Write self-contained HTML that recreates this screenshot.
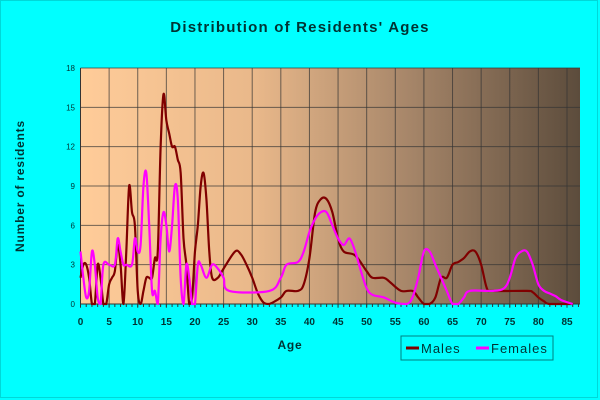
<!DOCTYPE html>
<html><head><meta charset="utf-8"><style>
body{margin:0;background:#00ffff}
svg{display:block;font-family:"Liberation Sans",Arial,sans-serif}
</style></head><body>
<svg width="600" height="400">
<defs><linearGradient id="bg" x1="0" x2="1" y1="0" y2="0">
<stop offset="0" stop-color="#ffcc99"/><stop offset="0.35" stop-color="#e9b88a"/><stop offset="0.65" stop-color="#a8876a"/><stop offset="1" stop-color="#5c4c3c"/></linearGradient></defs>
<rect x="0.5" y="0.5" width="597" height="397" fill="#00ffff" stroke="#00d8d8"/>
<text x="300" y="32" text-anchor="middle" font-size="15" font-weight="bold" letter-spacing="1.2" fill="#003333">Distribution of Residents' Ages</text>
<rect x="80.5" y="68" width="499.5" height="236" fill="url(#bg)"/>
<g id="grid"></g><g id="series"></g>
<text transform="translate(24,186) rotate(-90)" text-anchor="middle" font-size="12" font-weight="bold" letter-spacing="0.8" fill="#003333">Number of residents</text>
<text x="290" y="349" text-anchor="middle" font-size="12" font-weight="bold" letter-spacing="0.8" fill="#003333">Age</text>
<g>
<rect x="401" y="336" width="152" height="24" fill="none" stroke="#008080"/>
<line x1="406" y1="348" x2="419" y2="348" stroke="#800000" stroke-width="3"/>
<text x="421" y="353" font-size="13" fill="#003333" letter-spacing="1">Males</text>
<line x1="476" y1="348" x2="489" y2="348" stroke="#ff00ff" stroke-width="3"/>
<text x="491" y="353" font-size="13" fill="#003333" letter-spacing="1">Females</text>
</g>
</svg>
<script>
const yTicks=[0,3,6,9,12,15,18];
const xTicks=[0,5,10,15,20,25,30,35,40,45,50,55,60,65,70,75,80,85];
const maleAges=[0,0.5,1,1.5,2,2.5,3,3.5,4,4.5,5,5.5,6,6.5,7,7.5,8,8.5,9,9.5,10,10.5,11,11.5,12,12.5,13,13.5,14,14.5,15,15.5,16,16.5,17,17.5,18,18.5,19,19.5,20,20.5,21,21.5,22,22.5,23,24,25,27,28,29,30,31,32,33,35,36,38,39,40,41,42,43,44,45,46,48,50,51,53,54,56,58,59,60,61,62,63,64,65,66,67,68,69,70,71,72,78,79,80,81,82,86];
const maleValues=[2,3,3,2,0,0,3,2,0,0,1.5,2,2.5,4.5,3,0,4,9,7,6,1,0,1,2,2,2,3.5,4,12,16,14,13,12,12,11,10,5,3,0,0.5,4,6,9,10,8,4,2,2,2.7,4,3.8,3,2,0.8,0.1,0,0.5,1,1,1.5,3.5,7,8,8,7,5,4,3.7,2.5,2,2,1.7,1,1,0.5,0,0,0.5,2,2,3,3.2,3.5,4,4,3,1.2,1,1,0.9,0.5,0.2,0,0];
const femaleAges=[0,0.5,1,1.5,2,2.5,3,3.5,4,5,6,6.5,7,7.5,8,9,9.5,10,10.5,11,11.5,12,12.5,13,13.5,14,14.5,15,15.5,16,16.5,17,17.5,18,18.5,19,19.5,20,20.5,21,22,23,24,25,26,33,35,36,38,39,40,41,42,43,44,45,46,47,48,49,50,51,53,55,57,58,59,60,61,62,63,64,65,66,67,68,72,74,75,76,77,78,79,80,81,82,83,84,86];
const femaleValues=[4,2,0.5,1,4,3,0.5,0,3,3,3,5,4,3,3,3,5,4,4.5,9,10,6,1,1,0,5,7,6,4,6,9,8,2,0,3,2,0,0,3,3,2,3,2.7,2,1,1,2,3,3.2,4,5.5,6.5,7,7,6,5,4.5,5,4,2.5,1.2,0.7,0.5,0.1,0,0.5,2,4,4,3,2,1,0,0,0.5,1,1,1.2,2,3.5,4,4,3,1.5,1,0.8,0.6,0.3,0];
const NS="http://www.w3.org/2000/svg";
const X=a=>80.5+a*(486.5/85), Y=v=>304-v*(236/18);
const grid=document.getElementById('grid'), ser=document.getElementById('series');
function mk(t,at,p){const e=document.createElementNS(NS,t);for(const k in at)e.setAttribute(k,at[k]);p.appendChild(e);return e;}
yTicks.forEach(v=>{
 const l=mk('line',{x1:80.5,x2:580,y1:Y(v),y2:Y(v),stroke:'#333',"stroke-opacity":0.7},grid);
 
 
 const t=mk('text',{x:75,y:Y(v)+3,"text-anchor":"end","font-size":8,fill:'#003333'},grid);
 t.textContent=v;
 
 
});
xTicks.forEach(a=>{
 const l=mk('line',{x1:X(a),x2:X(a),y1:68,y2:308,stroke:'#333',"stroke-opacity":0.7},grid);
 
 
 const t=mk('text',{x:X(a),y:325,"text-anchor":"middle","font-size":10,"font-weight":"bold",fill:'#003333'},grid);
 t.textContent=a;
 
 
});
for(let a=0;a<=87;a++){mk('line',{x1:X(a),x2:X(a),y1:304,y2:307,stroke:'#333'},grid);}
mk('line',{x1:80.5,x2:80.5,y1:68,y2:304,stroke:'#333'},grid);
mk('line',{x1:80.5,x2:580,y1:304,y2:304,stroke:'#333'},grid);
function path(ax,vs){
 const p=ax.map((a,i)=>[X(a),Y(vs[i])]);
 let d='M'+p[0][0]+','+p[0][1];
 for(let i=0;i<p.length-1;i++){
  const p0=p[i-1]||p[i],p1=p[i],p2=p[i+1],p3=p[i+2]||p2;
  let c1y=p1[1]+(p2[1]-p0[1])/6,c2y=p2[1]-(p3[1]-p1[1])/6;
  c1y=Math.min(304,c1y);c2y=Math.min(304,c2y);
  d+=' C'+(p1[0]+(p2[0]-p0[0])/6)+','+c1y+' '+(p2[0]-(p3[0]-p1[0])/6)+','+c2y+' '+p2[0]+','+p2[1];
 }
 return d;
}
const m=mk('path',{d:path(maleAges,maleValues),fill:'none',stroke:'#800000','stroke-width':2.2},ser);


const f=mk('path',{d:path(femaleAges,femaleValues),fill:'none',stroke:'#ff00ff','stroke-width':2.2},ser);


</script>
</body></html>
